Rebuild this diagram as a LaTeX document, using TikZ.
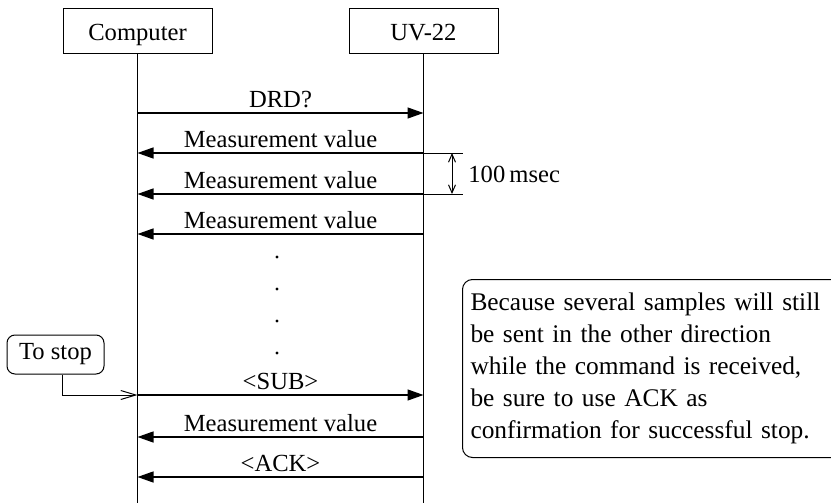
\documentclass[tikz,border=0pt]{standalone}
\usepackage{fontspec}
\setmainfont{Liberation Serif}
\usetikzlibrary{arrows.meta, positioning, calc}

\begin{document}
\begin{tikzpicture}[x=0.5pt, y=-0.5pt, font=\fontsize{12.3}{16}\selectfont,
  actor/.style={draw, line width=0.5pt, minimum width=74.5pt, minimum height=22.5pt, inner sep=0pt, text height=10pt, text depth=0.5pt},
  life/.style={line width=0.65pt},
  msg/.style={line width=0.65pt, -{Triangle[length=8pt,width=5.5pt]}},
  lbl/.style={above, inner sep=2.5pt},
  note/.style={draw, line width=0.5pt, rounded corners=5pt, align=left, font=\fontsize{12.7}{16}\selectfont}]
  \useasboundingbox (0,0) rectangle (831,503);

  % Participants
  \node[actor] (comp) at (137.5,30.5) {Computer};
  \node[actor] (uv) at (423.5,30.5) {UV-22};

  % Lifelines
  \coordinate (comp-end) at (137.5,503);
  \coordinate (uv-end) at (423.5,503);
  \draw[life] (comp) -- (comp-end);
  \draw[life] (uv) -- (uv-end);

  % Message end points on the lifelines
  \foreach \name/\y in {drd/113, mv1/153, mv2/194, mv3/234, sub/395, mv4/437, ack/477} {
    \coordinate (c-\name) at (137.5,\y);
    \coordinate (u-\name) at (423.5,\y);
  }

  % Messages
  \draw[msg] (c-drd) -- node[lbl] {DRD?} (u-drd);
  \draw[msg] (u-mv1) -- node[lbl] {Measurement value} (c-mv1);
  \draw[msg] (u-mv2) -- node[lbl] {Measurement value} (c-mv2);
  \draw[msg] (u-mv3) -- node[lbl] {Measurement value} (c-mv3);
  \draw[msg] (c-sub) -- node[lbl] {<SUB>} (u-sub);
  \draw[msg] (u-mv4) -- node[lbl] {Measurement value} (c-mv4);
  \draw[msg] (u-ack) -- node[lbl] {<ACK>} (c-ack);

  % Continuation dots
  \foreach \y in {257, 289, 321, 353}
    \fill (277,\y) circle (0.8pt);

  % Interval between two samples
  \coordinate (t1) at (463,153);
  \coordinate (t2) at (463,194);
  \draw[line width=0.5pt] (u-mv1) -- (t1);
  \draw[line width=0.5pt] (u-mv2) -- (t2);
  \coordinate (d1) at (452,153);
  \coordinate (d2) at (452,194);
  \draw[line width=0.5pt, {Straight Barb[length=4pt,width=3.5pt]}-{Straight Barb[length=4pt,width=3.5pt]}] (d1) -- (d2);
  \node[right, inner sep=0pt] (ms) at (468,174) {100\,msec};

  % Stop request
  \node[draw, line width=0.5pt, rounded corners=4pt, minimum width=48.5pt, minimum height=19.5pt, inner sep=0pt] (stop) at (55.5,354.5) {To stop};
  \coordinate (turn) at (62,395);
  \draw[line width=0.5pt, -{Straight Barb[length=7.5pt,width=4.5pt]}] (stop.south -| turn) -- (turn) -- (c-sub);

  % Remark
  \node[note, anchor=north west, minimum height=89pt, text width=184pt, inner xsep=4pt] (rem) at (462,279)
    {Because several samples will still\\
     be sent in the other direction\\
     while the command is received,\\
     be sure to use ACK as\\
     confirmation for successful stop.};
\end{tikzpicture}
\end{document}
